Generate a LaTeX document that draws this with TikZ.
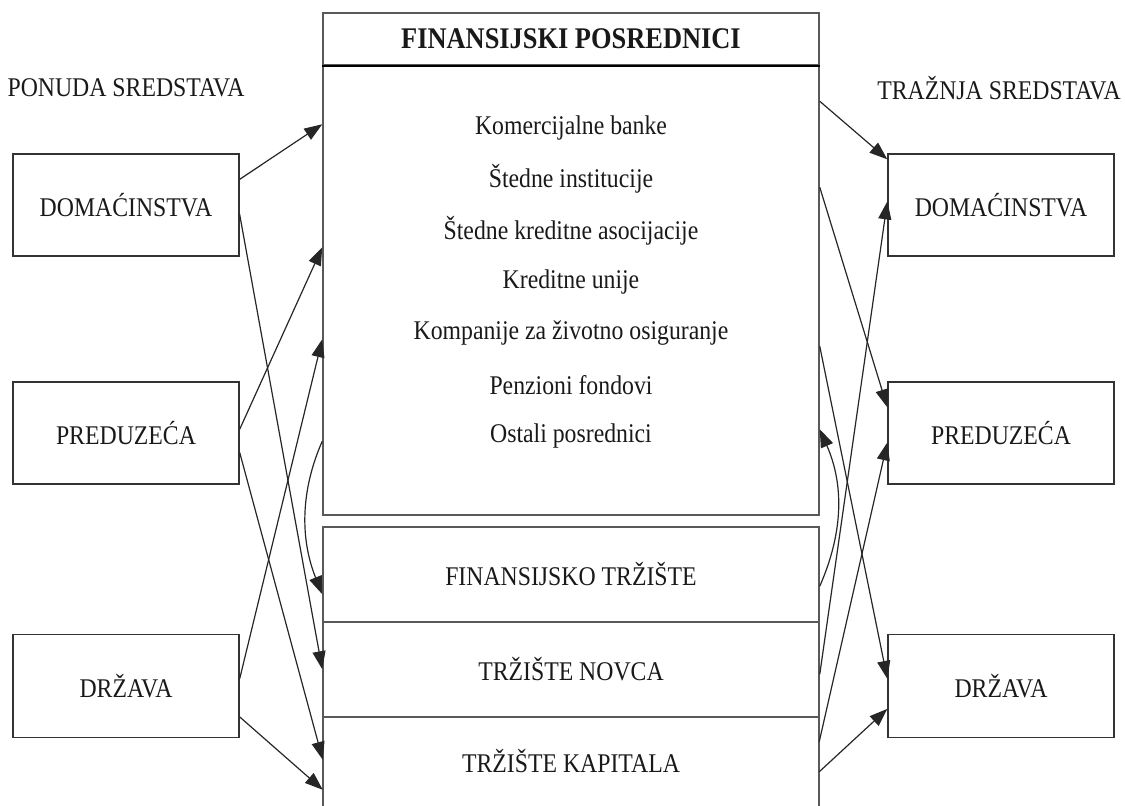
\documentclass[tikz,border=0pt]{standalone}
\usepackage{fontspec}
\setmainfont{Liberation Serif}[FakeStretch=0.88]
\usetikzlibrary{arrows.meta,calc}
\begin{document}
\begin{tikzpicture}[x=1pt,y=-1pt,
  txt/.style={font=\fontsize{27}{30}\selectfont, text=black!90, inner sep=0pt},
  sidebox/.style={txt, draw=black!80, line width=1.3pt, minimum width=226pt, minimum height=102pt},
  cbox/.style={txt, draw=black!65, line width=1.5pt, minimum width=496pt},
  arr/.style={draw=black!85, line width=1.2pt, -{Triangle[length=18pt,width=13pt]}}
]
\useasboundingbox (0,0) rectangle (1125,806);

% central column
\node[cbox, minimum height=52pt, font=\fontsize{30}{32}\selectfont\bfseries] (head) at (571,39) {FINANSIJSKI POSREDNICI};
\node[cbox, minimum height=450pt] (posr) at (571,290) {};
\draw[black, line width=2.2pt] (head.south west) -- (head.south east);
\node[cbox, minimum height=95pt] (ft) at (571,574.5) {FINANSIJSKO TRŽIŠTE};
\node[cbox, minimum height=95pt] (tn) at (571,669.5) {TRŽIŠTE NOVCA};
\node[txt, minimum width=496pt, minimum height=89pt] (tk) at (571,761.5) {TRŽIŠTE KAPITALA};
\draw[black!65, line width=1.5pt] (tk.south west) -- (tk.north west) (tk.north east) -- (tk.south east);

\node[txt] (i1) at (571,128) {Komercijalne banke};
\node[txt] (i2) at (571,179) {Štedne institucije};
\node[txt] (i3) at (571,231) {Štedne kreditne asocijacije};
\node[txt] (i4) at (571,282) {Kreditne unije};
\node[txt] (i5) at (571,333) {Kompanije za životno osiguranje};
\node[txt] (i6) at (571,385) {Penzioni fondovi};
\node[txt] (i7) at (571,436) {Ostali posrednici};

% headings
\node[txt] (ponuda) at (126,88) {PONUDA SREDSTAVA};
\node[txt] (traznja) at (999,88) {TRAŽNJA SREDSTAVA};

% left boxes
\node[sidebox] (ldom) at (126,205) {DOMAĆINSTVA};
\node[sidebox] (lpre) at (126,433) {PREDUZEĆA};
\node[sidebox, minimum height=103pt] (ldrz) at (126,686) {DRŽAVA};

% right boxes
\node[sidebox] (rdom) at (1001,205) {DOMAĆINSTVA};
\node[sidebox] (rpre) at (1001,433) {PREDUZEĆA};
\node[sidebox, minimum height=103pt] (rdrz) at (1001,686) {DRŽAVA};

% left arrows
\draw[arr] ([yshift=-26pt]ldom.north east) -- ([yshift=-60pt]posr.north west);
\draw[arr] ([yshift=-61pt]ldom.north east) -- ([yshift=-48pt]tn.north west);
\draw[arr] ([yshift=-48pt]lpre.north east) -- ([yshift=-183pt]posr.north west);
\draw[arr] ([yshift=-71pt]lpre.north east) -- ([yshift=-43pt]tk.north west);
\draw[arr] ([yshift=-45pt]ldrz.north east) -- ([yshift=-275pt]posr.north west);
\draw[arr] ([yshift=-83pt]ldrz.north east) -- ([yshift=-73pt]tk.north west);
\coordinate (lc1) at ([yshift=-377pt]posr.north west);
\coordinate (lc2) at ([yshift=-68pt]ft.north west);
\draw[arr] (lc1) .. controls ([xshift=-22pt,yshift=-50pt]lc1) and ([xshift=-22pt,yshift=55pt]lc2) .. (lc2);

% right arrows
\draw[arr] ([yshift=-37pt]posr.north east) -- ([yshift=-6pt]rdom.north west);
\draw[arr] ([yshift=-123pt]posr.north east) -- ([yshift=-26pt]rpre.north west);
\draw[arr] ([yshift=-282pt]posr.north east) -- ([yshift=-45pt]rdrz.north west);
\draw[arr] ([yshift=-53pt]tn.north east) -- ([yshift=-48pt]rdom.north west);
\draw[arr] ([yshift=-25pt]tk.north east) -- ([yshift=-61pt]rpre.north west);
\draw[arr] ([yshift=-55pt]tk.north east) -- ([yshift=-75pt]rdrz.north west);
\coordinate (rc1) at ([yshift=-60pt]ft.north east);
\coordinate (rc2) at ([yshift=-365pt]posr.north east);
\draw[arr] (rc1) .. controls ([xshift=24pt,yshift=55pt]rc1) and ([xshift=24pt,yshift=-55pt]rc2) .. (rc2);
\end{tikzpicture}
\end{document}
